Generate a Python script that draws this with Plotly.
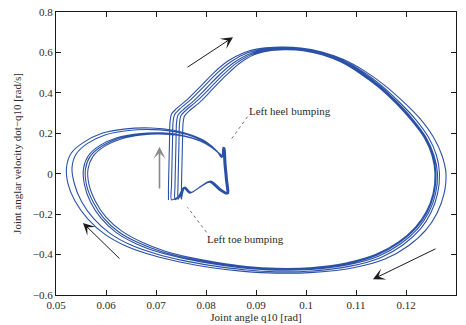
import plotly.graph_objects as go

# ---- trajectory data: 5 successive gait cycles (q10 [rad], dq10 [rad/s]) ----
q_c1 = [0.0725,0.0725,0.0726,0.0727,0.0728,0.0731,0.0741,0.0763,0.0788,0.0815,0.0843,0.0877,0.0911,0.0948,0.0990,0.1032,0.1074,0.1116,0.1158,0.1195,0.1228,0.1255,0.1272,0.1280,0.1276,0.1262,0.1240,0.1205,0.1158,0.1095,0.1015,0.0940,0.0875,0.0812,0.0750,0.0695,0.0642,0.0598,0.0563,0.0538,0.0524,0.0521,0.0530,0.0555,0.0592,0.0640,0.0690,0.0735,0.0772,0.0802,0.0822,0.0831,0.0834,0.0836,0.0839,0.0841,0.0827,0.0807,0.0789,0.0767,0.0755,0.0745]
dq_c1 = [-0.130,-0.060,0.050,0.160,0.255,0.295,0.322,0.368,0.430,0.498,0.556,0.600,0.620,0.626,0.622,0.602,0.566,0.510,0.436,0.355,0.272,0.180,0.090,0.000,-0.100,-0.195,-0.278,-0.356,-0.422,-0.465,-0.488,-0.492,-0.483,-0.465,-0.438,-0.405,-0.360,-0.300,-0.222,-0.135,-0.050,0.030,0.100,0.155,0.200,0.222,0.226,0.215,0.190,0.155,0.112,0.080,0.132,0.050,-0.030,-0.100,-0.082,-0.042,-0.064,-0.096,-0.070,-0.112]

q_c2 = [0.0731,0.0731,0.0732,0.0733,0.0734,0.0737,0.0747,0.0769,0.0794,0.0821,0.0849,0.0882,0.0915,0.0950,0.0991,0.1032,0.1073,0.1114,0.1153,0.1188,0.1219,0.1245,0.1261,0.1267,0.1263,0.1250,0.1229,0.1195,0.1150,0.1089,0.1012,0.0940,0.0876,0.0815,0.0755,0.0701,0.0650,0.0608,0.0575,0.0551,0.0537,0.0532,0.0540,0.0563,0.0598,0.0645,0.0695,0.0740,0.0776,0.0804,0.0823,0.0831,0.0835,0.0837,0.0840,0.0842,0.0828,0.0808,0.0790,0.0768,0.0755,0.0746]
dq_c2 = [-0.129,-0.060,0.050,0.160,0.252,0.292,0.319,0.365,0.427,0.495,0.553,0.597,0.616,0.622,0.618,0.598,0.561,0.505,0.432,0.351,0.269,0.180,0.090,0.000,-0.100,-0.192,-0.273,-0.350,-0.414,-0.457,-0.481,-0.485,-0.475,-0.456,-0.430,-0.397,-0.353,-0.295,-0.221,-0.137,-0.052,0.028,0.096,0.150,0.192,0.214,0.218,0.207,0.182,0.147,0.108,0.081,0.131,0.050,-0.030,-0.100,-0.081,-0.040,-0.063,-0.095,-0.069,-0.111]

q_c3 = [0.0738,0.0738,0.0739,0.0740,0.0741,0.0744,0.0754,0.0776,0.0801,0.0828,0.0856,0.0888,0.0919,0.0952,0.0992,0.1032,0.1072,0.1112,0.1150,0.1184,0.1214,0.1240,0.1256,0.1263,0.1259,0.1246,0.1224,0.1190,0.1145,0.1085,0.1010,0.0940,0.0878,0.0818,0.0760,0.0708,0.0660,0.0620,0.0590,0.0569,0.0557,0.0555,0.0565,0.0588,0.0622,0.0665,0.0712,0.0752,0.0785,0.0810,0.0825,0.0832,0.0836,0.0838,0.0841,0.0843,0.0829,0.0808,0.0790,0.0768,0.0756,0.0748]
dq_c3 = [-0.128,-0.060,0.050,0.160,0.250,0.290,0.316,0.362,0.424,0.492,0.550,0.594,0.613,0.619,0.615,0.595,0.558,0.502,0.430,0.350,0.268,0.180,0.090,0.000,-0.100,-0.190,-0.270,-0.345,-0.408,-0.450,-0.474,-0.477,-0.467,-0.448,-0.422,-0.390,-0.346,-0.290,-0.220,-0.140,-0.055,0.025,0.090,0.140,0.178,0.198,0.202,0.190,0.165,0.132,0.102,0.082,0.130,0.050,-0.030,-0.100,-0.080,-0.038,-0.062,-0.094,-0.068,-0.112]

q_c4 = [0.0744,0.0744,0.0745,0.0746,0.0747,0.0750,0.0760,0.0782,0.0807,0.0834,0.0861,0.0892,0.0922,0.0954,0.0993,0.1032,0.1071,0.1110,0.1148,0.1182,0.1212,0.1238,0.1254,0.1260,0.1256,0.1243,0.1221,0.1187,0.1142,0.1082,0.1009,0.0940,0.0879,0.0820,0.0763,0.0712,0.0665,0.0625,0.0595,0.0574,0.0561,0.0559,0.0569,0.0592,0.0626,0.0668,0.0714,0.0754,0.0786,0.0811,0.0826,0.0833,0.0837,0.0839,0.0842,0.0844,0.0830,0.0809,0.0791,0.0769,0.0757,0.0750]
dq_c4 = [-0.127,-0.060,0.050,0.160,0.248,0.288,0.314,0.360,0.421,0.489,0.547,0.591,0.610,0.616,0.612,0.592,0.555,0.499,0.428,0.349,0.267,0.180,0.090,0.000,-0.100,-0.188,-0.267,-0.341,-0.403,-0.446,-0.469,-0.472,-0.463,-0.444,-0.418,-0.386,-0.342,-0.287,-0.218,-0.139,-0.055,0.024,0.088,0.137,0.175,0.195,0.199,0.188,0.164,0.131,0.101,0.083,0.129,0.050,-0.030,-0.099,-0.079,-0.037,-0.061,-0.093,-0.067,-0.110]

q_c5 = [0.0751,0.0751,0.0752,0.0753,0.0754,0.0757,0.0767,0.0789,0.0813,0.0840,0.0866,0.0896,0.0925,0.0956,0.0994,0.1032,0.1070,0.1108,0.1146,0.1180,0.1210,0.1236,0.1252,0.1258,0.1254,0.1241,0.1219,0.1185,0.1140,0.1080,0.1008,0.0940,0.0881,0.0823,0.0767,0.0717,0.0671,0.0631,0.0600,0.0579,0.0566,0.0564,0.0574,0.0596,0.0630,0.0671,0.0716,0.0756,0.0788,0.0812,0.0827,0.0834,0.0838,0.0840,0.0843,0.0845,0.0831,0.0810,0.0792,0.0770,0.0758,0.0752,0.0751]
dq_c5 = [-0.126,-0.060,0.050,0.160,0.246,0.286,0.312,0.357,0.418,0.486,0.544,0.588,0.607,0.613,0.609,0.589,0.552,0.496,0.426,0.348,0.266,0.180,0.090,0.000,-0.100,-0.186,-0.264,-0.338,-0.399,-0.442,-0.465,-0.468,-0.459,-0.440,-0.414,-0.382,-0.338,-0.283,-0.215,-0.137,-0.054,0.023,0.086,0.134,0.172,0.192,0.196,0.186,0.162,0.130,0.100,0.084,0.128,0.050,-0.030,-0.098,-0.078,-0.036,-0.060,-0.092,-0.066,-0.109,-0.126]

# ---- axis ticks ----
x_ticks = [0.05, 0.06, 0.07, 0.08, 0.09, 0.10, 0.11, 0.12, 0.13]
x_tick_text = ["0.05", "0.06", "0.07", "0.08", "0.09", "0.1", "0.11", "0.12", "0.13"]
y_ticks = [-0.6, -0.4, -0.2, 0.0, 0.2, 0.4, 0.6, 0.8]
y_tick_text = ["\u22120.6", "\u22120.4", "\u22120.2", "0", "0.2", "0.4", "0.6", "0.8"]

# ---- direction arrows ----
arrow_tail_x = [0.0760, 0.0707, 0.0630, 0.1262]
arrow_tail_y = [0.522, -0.081, -0.427, -0.368]
arrow_tip_x = [0.0854, 0.0707, 0.0554, 0.1134]
arrow_tip_y = [0.675, 0.133, -0.244, -0.522]
arrow_colors = ["#1a1a1a", "#8a8a8a", "#1a1a1a", "#1a1a1a"]
arrow_widths = [1.0, 1.6, 1.0, 1.0]

# ---- dotted pointer annotations ----
note_texts = ["Left heel bumping", "Left toe bumping"]
note_text_x = [0.0881, 0.0797]
note_text_y = [0.309, -0.322]
note_tail_x = [0.0883, 0.0801]
note_tail_y = [0.282, -0.290]
note_tip_x = [0.0851, 0.0763]
note_tip_y = [0.172, -0.166]

FONT = "Liberation Serif"
LINE_COLOR = "#2b51a6"
TEXT_COLOR = "#2a2a2a"

q_all = q_c1 + q_c2 + q_c3 + q_c4 + q_c5
dq_all = dq_c1 + dq_c2 + dq_c3 + dq_c4 + dq_c5

fig = go.Figure()
fig.add_trace(go.Scatter(
    x=q_all, y=dq_all, mode="lines",
    line=dict(color=LINE_COLOR, width=1.1, shape="spline", smoothing=0.8),
    hoverinfo="skip", showlegend=False,
))

annotations = []
for tx, ty, hx, hy, c, w in zip(arrow_tail_x, arrow_tail_y, arrow_tip_x, arrow_tip_y,
                                arrow_colors, arrow_widths):
    annotations.append(dict(
        x=hx, y=hy, ax=tx, ay=ty, xref="x", yref="y", axref="x", ayref="y",
        text="", showarrow=True, arrowhead=3, arrowsize=2.0 / w,
        arrowwidth=w, arrowcolor=c,
    ))

shapes = []
for tx, ty, hx, hy in zip(note_tail_x, note_tail_y, note_tip_x, note_tip_y):
    shapes.append(dict(type="line", xref="x", yref="y", x0=tx, y0=ty, x1=hx, y1=hy,
                       line=dict(color="#777777", width=1, dash="dot")))
    annotations.append(dict(
        x=hx, y=hy, ax=hx + (tx - hx) * 0.12, ay=hy + (ty - hy) * 0.12,
        xref="x", yref="y", axref="x", ayref="y",
        text="", showarrow=True, arrowhead=3, arrowsize=2.0, arrowwidth=1,
        arrowcolor="#1a1a1a",
    ))

for t, x, y in zip(note_texts, note_text_x, note_text_y):
    annotations.append(dict(x=x, y=y, xref="x", yref="y", text=t, showarrow=False,
                            xanchor="left", yanchor="middle",
                            font=dict(family=FONT, size=11, color=TEXT_COLOR)))

axis_common = dict(
    showline=True, linecolor="#1a1a1a", linewidth=1, mirror="allticks",
    ticks="inside", ticklen=5, tickcolor="#1a1a1a", tickwidth=1,
    showgrid=False, zeroline=False,
    tickfont=dict(family=FONT, size=11, color=TEXT_COLOR),
)

fig.update_layout(
    width=466, height=325,
    margin=dict(l=56, r=10, t=12, b=30, autoexpand=False),
    paper_bgcolor="white", plot_bgcolor="white",
    xaxis=dict(range=[0.05, 0.13], tickvals=x_ticks, ticktext=x_tick_text,
               title=dict(text="Joint angle q10 [rad]", standoff=2,
                          font=dict(family=FONT, size=11, color=TEXT_COLOR)),
               automargin=False, **axis_common),
    yaxis=dict(range=[-0.6, 0.8], tickvals=y_ticks, ticktext=y_tick_text,
               title=dict(text="Joint anglar velocity dot\u2212q10 [rad/s]", standoff=8,
                          font=dict(family=FONT, size=11, color=TEXT_COLOR)),
               automargin=False, **axis_common),
    annotations=annotations, shapes=shapes,
)

fig.write_html("out.html")
